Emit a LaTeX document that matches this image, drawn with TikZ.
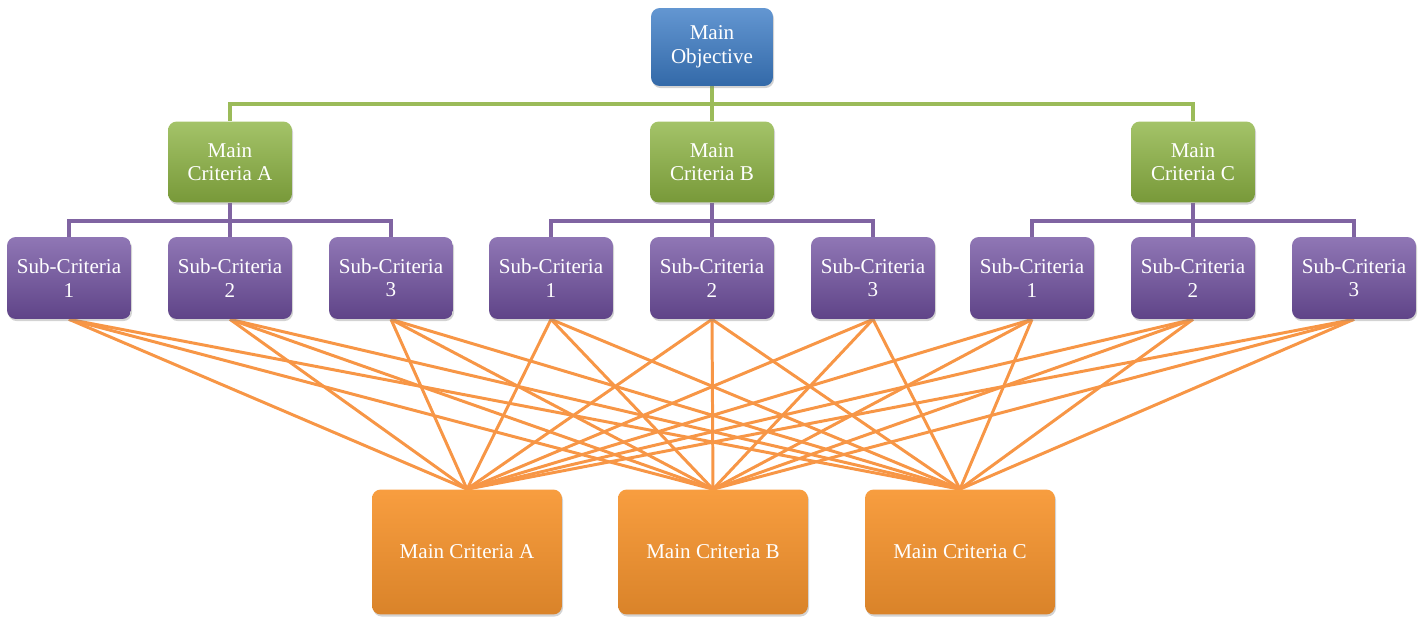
\documentclass[tikz,border=0pt]{standalone}
\usepackage{fontspec}
\setmainfont{Liberation Serif}
\usetikzlibrary{shadows,backgrounds}
\definecolor{objblue}{HTML}{3C7CC6}
\definecolor{critgreen}{HTML}{8DB443}
\definecolor{subpurple}{HTML}{7050A0}
\definecolor{altorange}{HTML}{F7952F}
\definecolor{greenline}{HTML}{9BBB59}
\definecolor{purpleline}{HTML}{8064A2}
\definecolor{orangeline}{HTML}{F79646}
\tikzset{
  box/.style={rounded corners=5pt, draw=none, text=white, align=center,
    font=\fontsize{12}{13.4}\selectfont, inner sep=0pt,
    drop shadow={opacity=0.35, shadow xshift=0.6pt, shadow yshift=-1.2pt}},
  objbox/.style={box, minimum width=2.44cm, minimum height=1.56cm,
    top color=objblue!80!white, bottom color=objblue!85!black},
  critbox/.style={box, minimum width=2.48cm, minimum height=1.62cm,
    top color=critgreen!80!white, bottom color=critgreen!85!black},
  subbox/.style={box, minimum width=2.48cm, minimum height=1.64cm,
    top color=subpurple!78!white, bottom color=subpurple!85!black},
  altbox/.style={box, minimum width=3.8cm, minimum height=2.5cm,
    top color=altorange!92!white, bottom color=altorange!88!black},
  gline/.style={draw=greenline, line width=2.3pt},
  pline/.style={draw=purpleline, line width=2.3pt},
  oline/.style={draw=orangeline, line width=1.7pt}
}
\begin{document}
\begin{tikzpicture}[x=0.02cm,y=-0.02cm]
  \useasboundingbox (0,0) rectangle (1421,618);
  % top level
  \node[objbox] (mainobj) at (712,47) {Main\\Objective};
  % main criteria
  \node[critbox] (critA) at (230,162)  {Main\\Criteria A};
  \node[critbox] (critB) at (712,162)  {Main\\Criteria B};
  \node[critbox] (critC) at (1193,162) {Main\\Criteria C};
  % sub criteria
  \foreach \g/\cx in {A/230,B/712,C/1193} {
    \foreach \i/\dx in {1/-161,2/0,3/161} {
      \node[subbox] (s\g\i) at (\cx+\dx,278) {Sub-Criteria\\\i};
    }
  }
  % bottom row
  \node[altbox] (botA) at (467,552) {Main Criteria A};
  \node[altbox] (botB) at (713,552) {Main Criteria B};
  \node[altbox] (botC) at (960,552) {Main Criteria C};
  \coordinate (gbar) at (0,104);
  \coordinate (pbar) at (0,221);
  \begin{scope}[on background layer]
    \foreach \g in {A,B,C}
      \draw[gline] (mainobj.south) -- (mainobj.south |- gbar) -| (crit\g.north);
    \foreach \g in {A,B,C} {
      \foreach \i in {1,2,3}
        \draw[pline] (crit\g.south) -- (crit\g.south |- pbar) -| (s\g\i.north);
    }
    \foreach \g in {A,B,C} {
      \foreach \i in {1,2,3} {
        \foreach \b in {A,B,C}
          \draw[oline] (s\g\i.south) -- (bot\b.north);
      }
    }
  \end{scope}
\end{tikzpicture}
\end{document}
